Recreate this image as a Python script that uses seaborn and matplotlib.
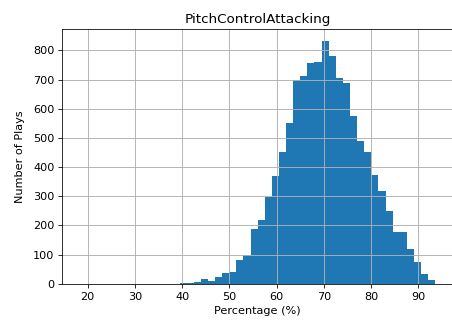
import numpy as np
import pandas as pd
import matplotlib
matplotlib.use("Agg")
import matplotlib.pyplot as plt
import seaborn as sns

# Histogram data (50 bins between data min and max)
edge_min = 18.38
edge_max = 93.6
n_bins = 50
counts = [0, 0, 0, 0, 0, 0, 0, 0, 0, 0,
          0, 0, 0, 0, 3, 4, 5, 17, 9, 22,
          36, 41, 81, 98, 188, 220, 297, 371, 453, 552,
          700, 713, 757, 762, 831, 782, 706, 690, 575, 491,
          451, 374, 317, 249, 177, 177, 118, 74, 33, 13]

title = "PitchControlAttacking"
xlabel = "Percentage (%)"
ylabel = "Number of Plays"

edges = np.linspace(edge_min, edge_max, n_bins + 1)
centers = (edges[:-1] + edges[1:]) / 2
df = pd.DataFrame({"pct": centers, "n": counts})

scale = 1.12
plt.rcParams.update({
    "xtick.major.size": 3.5 * scale,
    "ytick.major.size": 3.5 * scale,
    "xtick.major.pad": 3.5 * scale,
    "ytick.major.pad": 3.5 * scale,
    "axes.labelpad": 4.0 * scale,
    "axes.titlepad": 6.0 * scale,
})

dpi = 72
fig = plt.figure(figsize=(452 / dpi, 323 / dpi), dpi=dpi)
ax = fig.add_axes([62.3 / 452, (323 - 283.7) / 323, (453.0 - 62.3) / 452, (283.7 - 29.3) / 323])

sns.histplot(data=df, x="pct", weights="n", bins=n_bins, binrange=(edge_min, edge_max),
             ax=ax, color="#1f77b4", alpha=1.0, linewidth=0, edgecolor="none")

ax.grid(True, color="#b0b0b0", linewidth=0.8 * scale)
ax.set_title(title, fontsize=12 * scale)
ax.set_xlabel(xlabel, fontsize=10 * scale)
ax.set_ylabel(ylabel, fontsize=10 * scale, labelpad=4.0 * scale + 4)
ax.set_xticks([20, 30, 40, 50, 60, 70, 80, 90])
ax.set_yticks([0, 100, 200, 300, 400, 500, 600, 700, 800])
ax.tick_params(labelsize=10 * scale)
ax.set_xlim(edge_min - 0.05 * (edge_max - edge_min), edge_max + 0.05 * (edge_max - edge_min))

fig.savefig("out.png", dpi=dpi)
